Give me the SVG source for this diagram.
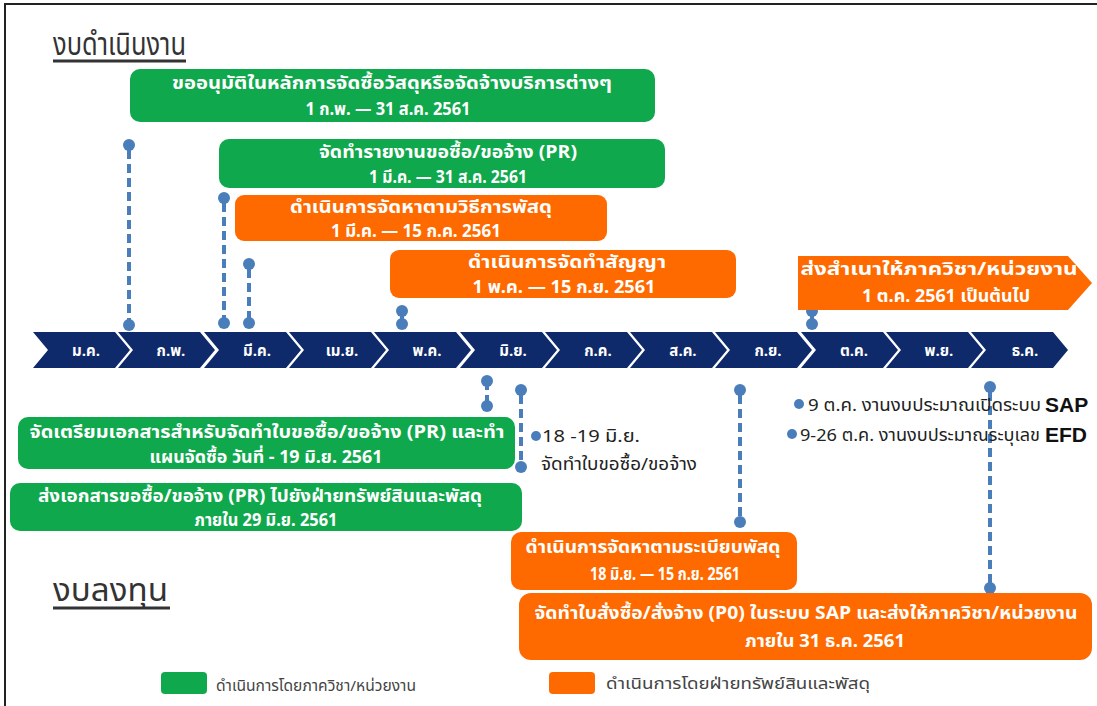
<svg xmlns="http://www.w3.org/2000/svg" width="1097" height="706" viewBox="0 0 1097 706">
<defs>
<style>
.g{fill:#10a84c}
.o{fill:#ff6a00}
.t{font-family:"Noto Sans Thai","Noto Sans","DejaVu Sans",sans-serif;font-size:17px;font-weight:bold;fill:#ffffff;text-anchor:middle}
.m{font-family:"Noto Sans Thai","Noto Sans","DejaVu Sans",sans-serif;font-size:15px;font-weight:bold;fill:#ffffff;text-anchor:middle}
.k{font-family:"Noto Sans Thai","Noto Sans","DejaVu Sans",sans-serif;font-size:17px;fill:#222222}
.b{font-family:"Liberation Sans","Noto Sans",sans-serif;font-size:21px;font-weight:bold;fill:#111111}
.h{font-family:"Noto Sans Thai","Noto Sans","DejaVu Sans",sans-serif;font-size:32px;fill:#333333}
.lg{font-family:"Noto Sans Thai","Noto Sans","DejaVu Sans",sans-serif;font-size:15px;fill:#444444}
.ch{fill:#0f2a6b}
.dl{stroke:#4a7ebb;stroke-width:4;stroke-dasharray:9 5;fill:none}
.dt{fill:#4a7ebb}
</style>
</defs>
<rect x="0" y="0" width="1097" height="706" fill="#ffffff"/>
<path d="M5 706 V4 H1097" fill="none" stroke="#222" stroke-width="2"/>

<g id="title-op">
<text class="h" x="53" y="55" textLength="133" lengthAdjust="spacingAndGlyphs">งบดำเนินงาน</text>
<line x1="53" y1="61" x2="186" y2="61" stroke="#333" stroke-width="3"/>
</g>
<g id="title-inv">
<text class="h" x="53" y="601" textLength="115" lengthAdjust="spacingAndGlyphs">งบลงทุน</text>
<line x1="53" y1="608" x2="170" y2="608" stroke="#333" stroke-width="3"/>
</g>

<g id="timeline">
<polygon class="ch" points="33,332 115,332 130,350 115,368 33,368 48,350"/>
<polygon class="ch" points="118,332 200,332 215,350 200,368 118,368 133,350"/>
<polygon class="ch" points="204,332 286,332 301,350 286,368 204,368 219,350"/>
<polygon class="ch" points="289,332 371,332 386,350 371,368 289,368 304,350"/>
<polygon class="ch" points="374,332 456,332 471,350 456,368 374,368 389,350"/>
<polygon class="ch" points="460,332 542,332 557,350 542,368 460,368 475,350"/>
<polygon class="ch" points="545,332 627,332 642,350 627,368 545,368 560,350"/>
<polygon class="ch" points="630,332 712,332 727,350 712,368 630,368 645,350"/>
<polygon class="ch" points="715,332 797,332 812,350 797,368 715,368 730,350"/>
<polygon class="ch" points="801,332 883,332 898,350 883,368 801,368 816,350"/>
<polygon class="ch" points="886,332 968,332 983,350 968,368 886,368 901,350"/>
<polygon class="ch" points="971,332 1053,332 1068,350 1053,368 971,368 986,350"/>
<text class="m" x="86" y="356">ม.ค.</text>
<text class="m" x="171" y="356">ก.พ.</text>
<text class="m" x="257" y="356">มี.ค.</text>
<text class="m" x="342" y="356">เม.ย.</text>
<text class="m" x="427" y="356">พ.ค.</text>
<text class="m" x="513" y="356">มิ.ย.</text>
<text class="m" x="598" y="356">ก.ค.</text>
<text class="m" x="683" y="356">ส.ค.</text>
<text class="m" x="768" y="356">ก.ย.</text>
<text class="m" x="854" y="356">ต.ค.</text>
<text class="m" x="939" y="356">พ.ย.</text>
<text class="m" x="1025" y="356">ธ.ค.</text>
</g>

<g id="connectors">
<line class="dl" x1="129" y1="150" x2="129" y2="320"/>
<circle class="dt" cx="129" cy="145" r="6"/><circle class="dt" cx="129" cy="325" r="6"/>
<line class="dl" x1="224" y1="203" x2="224" y2="318"/>
<circle class="dt" cx="224" cy="198" r="6"/><circle class="dt" cx="224" cy="323" r="6"/>
<line class="dl" x1="249" y1="269" x2="249" y2="318"/>
<circle class="dt" cx="249" cy="264" r="6"/><circle class="dt" cx="249" cy="323" r="6"/>
<line class="dl" x1="402" y1="311" x2="402" y2="324" stroke-dasharray="none"/>
<circle class="dt" cx="402" cy="311" r="6"/><circle class="dt" cx="402" cy="324" r="6"/>
<line class="dl" x1="812" y1="311" x2="812" y2="324" stroke-dasharray="none"/>
<circle class="dt" cx="812" cy="311" r="6"/><circle class="dt" cx="812" cy="324" r="6"/>
<line class="dl" x1="487" y1="381" x2="487" y2="406" stroke-dasharray="6 5"/>
<circle class="dt" cx="487" cy="381" r="6"/><circle class="dt" cx="487" cy="406" r="6"/>
<line class="dl" x1="521" y1="395" x2="521" y2="462"/>
<circle class="dt" cx="521" cy="390" r="6"/><circle class="dt" cx="521" cy="467" r="6"/>
<line class="dl" x1="740" y1="395" x2="740" y2="517"/>
<circle class="dt" cx="740" cy="390" r="6"/><circle class="dt" cx="740" cy="522" r="6"/>
<line class="dl" x1="990" y1="392" x2="990" y2="583"/>
<circle class="dt" cx="990" cy="387" r="6"/><circle class="dt" cx="990" cy="588" r="6"/>
</g>

<g id="n-approve">
<rect class="g" x="130" y="69" width="525" height="53" rx="10"/>
<text class="t" x="392" y="89" textLength="440" lengthAdjust="spacingAndGlyphs">ขออนุมัติในหลักการจัดซื้อวัสดุหรือจัดจ้างบริการต่างๆ</text>
<text class="t" x="388" y="115" textLength="165" lengthAdjust="spacingAndGlyphs">1 ก.พ. — 31 ส.ค. 2561</text>
</g>
<g id="n-pr-report">
<rect class="g" x="219" y="139" width="446" height="49" rx="10"/>
<text class="t" x="448" y="158" textLength="258" lengthAdjust="spacingAndGlyphs">จัดทำรายงานขอซื้อ/ขอจ้าง (PR)</text>
<text class="t" x="448" y="183" textLength="158" lengthAdjust="spacingAndGlyphs">1 มี.ค. — 31 ส.ค. 2561</text>
</g>
<g id="n-procure-method">
<rect class="o" x="235" y="195" width="372" height="46" rx="9"/>
<text class="t" x="421" y="213" textLength="262" lengthAdjust="spacingAndGlyphs">ดำเนินการจัดหาตามวิธีการพัสดุ</text>
<text class="t" x="416" y="237" textLength="170" lengthAdjust="spacingAndGlyphs">1 มี.ค. — 15 ก.ค. 2561</text>
</g>
<g id="n-contract">
<rect class="o" x="390" y="250" width="346" height="48" rx="9"/>
<text class="t" x="567" y="268" textLength="198" lengthAdjust="spacingAndGlyphs">ดำเนินการจัดทำสัญญา</text>
<text class="t" x="564" y="293" textLength="183" lengthAdjust="spacingAndGlyphs">1 พ.ค. — 15 ก.ย. 2561</text>
</g>
<g id="n-copy">
<polygon class="o" points="798,256 1068,256 1092,283 1068,310 798,310"/>
<text class="t" x="939" y="275" textLength="277" lengthAdjust="spacingAndGlyphs">ส่งสำเนาให้ภาควิชา/หน่วยงาน</text>
<text class="t" x="946" y="302" textLength="168" lengthAdjust="spacingAndGlyphs">1 ต.ค.  2561 เป็นต้นไป</text>
</g>

<g id="n-prepare">
<rect class="g" x="18" y="417" width="497" height="52" rx="10"/>
<text class="t" x="267" y="438" textLength="475" lengthAdjust="spacingAndGlyphs">จัดเตรียมเอกสารสำหรับจัดทำใบขอซื้อ/ขอจ้าง (PR) และทำ</text>
<text class="t" x="266" y="463" textLength="233" lengthAdjust="spacingAndGlyphs">แผนจัดซื้อ วันที่ -  19 มิ.ย. 2561</text>
</g>
<g id="n-send-pr">
<rect class="g" x="10" y="483" width="512" height="48" rx="10"/>
<text class="t" x="260" y="502" textLength="444" lengthAdjust="spacingAndGlyphs">ส่งเอกสารขอซื้อ/ขอจ้าง  (PR) ไปยังฝ่ายทรัพย์สินและพัสดุ</text>
<text class="t" x="266" y="526" textLength="143" lengthAdjust="spacingAndGlyphs">ภายใน 29 มิ.ย. 2561</text>
</g>
<g id="n-pr-date">
<circle class="dt" cx="536" cy="436" r="5"/>
<text class="k" x="542" y="442" textLength="98" lengthAdjust="spacingAndGlyphs">18 -19 มิ.ย.</text>
<text class="k" x="541" y="470" textLength="156" lengthAdjust="spacingAndGlyphs">จัดทำใบขอซื้อ/ขอจ้าง</text>
</g>
<g id="n-sap">
<circle class="dt" cx="799" cy="404" r="5"/>
<text class="k" x="808" y="411" textLength="233" lengthAdjust="spacingAndGlyphs">9 ต.ค. งานงบประมาณเปิดระบบ</text>
<text class="b" x="1045" y="412">SAP</text>
<circle class="dt" cx="792" cy="434" r="5"/>
<text class="k" x="800" y="441" textLength="240" lengthAdjust="spacingAndGlyphs">9-26 ต.ค. งานงบประมาณระบุเลข</text>
<text class="b" x="1045" y="442">EFD</text>
</g>
<g id="n-procure-reg">
<rect class="o" x="511" y="532" width="286" height="58" rx="10"/>
<text class="t" x="653" y="553" textLength="255" lengthAdjust="spacingAndGlyphs">ดำเนินการจัดหาตามระเบียบพัสดุ</text>
<text class="t" x="665" y="580" textLength="150" lengthAdjust="spacingAndGlyphs">18 มิ.ย. — 15 ก.ย. 2561</text>
</g>
<g id="n-po">
<rect class="o" x="519" y="593" width="573" height="67" rx="12"/>
<text class="t" x="806" y="619" textLength="543" lengthAdjust="spacingAndGlyphs">จัดทำใบสั่งซื้อ/สั่งจ้าง (P0) ในระบบ SAP และส่งให้ภาควิชา/หน่วยงาน</text>
<text class="t" x="825" y="647" textLength="160" lengthAdjust="spacingAndGlyphs">ภายใน 31 ธ.ค. 2561</text>
</g>

<g id="legend">
<rect class="g" x="161" y="672" width="46" height="22" rx="4"/>
<text class="lg" x="216" y="691" textLength="200" lengthAdjust="spacingAndGlyphs">ดำเนินการโดยภาควิชา/หน่วยงาน</text>
<rect class="o" x="549" y="672" width="46" height="22" rx="4"/>
<text class="lg" x="606" y="689" textLength="264" lengthAdjust="spacingAndGlyphs">ดำเนินการโดยฝ่ายทรัพย์สินและพัสดุ</text>
</g>
</svg>
